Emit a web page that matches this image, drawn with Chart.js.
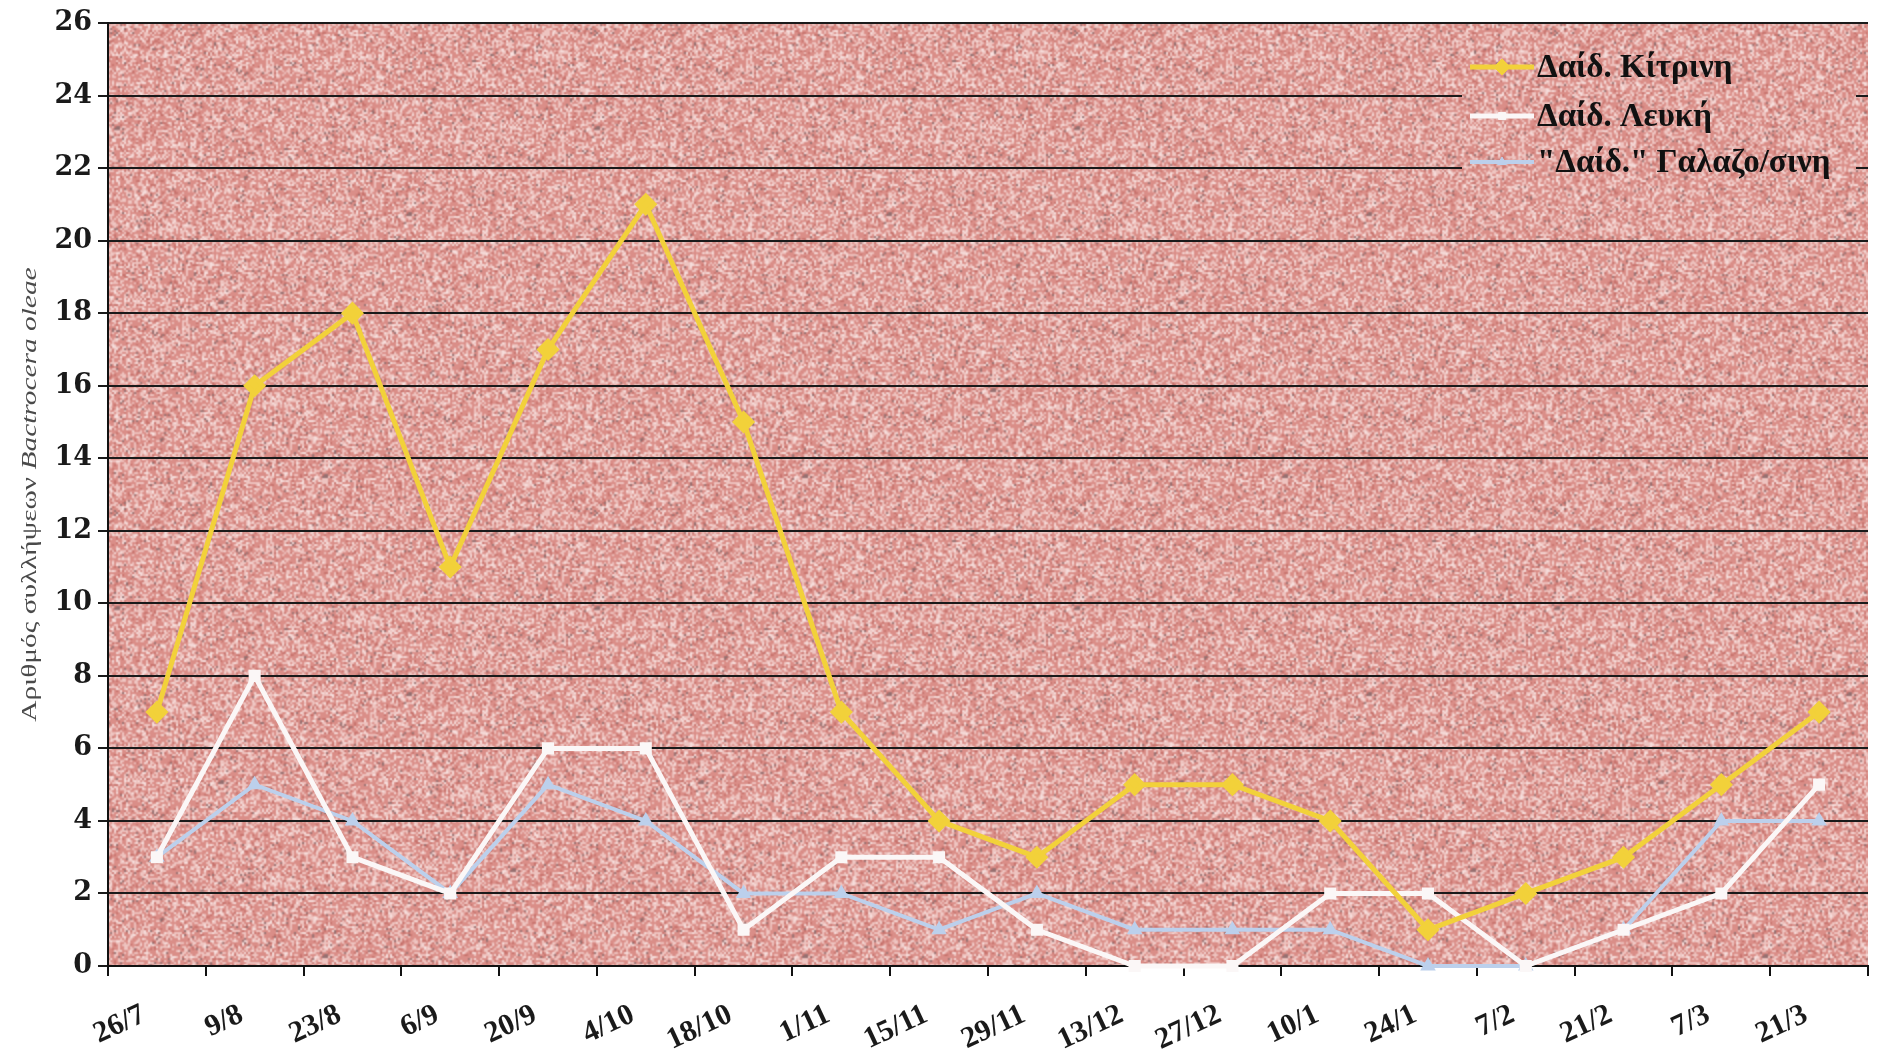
<!DOCTYPE html>
<html>
<head>
<meta charset="utf-8">
<script src="https://cdn.jsdelivr.net/npm/chart.js@4.4.1/dist/chart.umd.min.js"></script>
<style>
  html, body { margin: 0; padding: 0; background: #ffffff; }
  #wrap { width: 1881px; height: 1053px; position: relative; }
</style>
</head>
<body>
<div id="wrap"><canvas id="c" width="1881" height="1053"></canvas></div>
<script>
// ---- data ----
const dateLabels = ['26/7','9/8','23/8','6/9','20/9','4/10','18/10','1/11','15/11','29/11','13/12','27/12','10/1','24/1','7/2','21/2','7/3','21/3'];
const yellowTrap = [7, 16, 18, 11, 17, 21, 15, 7, 4, 3, 5, 5, 4, 1, 2, 3, 5, 7];
const whiteTrap  = [3, 8, 3, 2, 6, 6, 1, 3, 3, 1, 0, 0, 2, 2, 0, 1, 2, 5];
const blueTrap   = [3, 5, 4, 2, 5, 4, 2, 2, 1, 2, 1, 1, 1, 0, 0, 1, 4, 4];
const seriesNames = ['Δαίδ. Κίτρινη', 'Δαίδ. Λευκή', '"Δαίδ." Γαλαζο/σινη'];
const yTitleMain = 'Αριθμός συλλήψεων ';
const yTitleItalic = 'Bactrocera oleae';

const PLOT_BG = '#d8938e';
const SERIF = '"Liberation Serif", "DejaVu Serif", serif';
const WIDE_SERIF = '"DejaVu Serif", "Liberation Serif", serif';

// speckled paper-like texture for the plot background (decorative only)
function makeTexture() {
  const c = document.createElement('canvas');
  c.width = 240; c.height = 240;
  const g = c.getContext('2d');
  const img = g.createImageData(240, 240);
  let s = 12345;
  function rnd() { s = (s * 1103515245 + 12345) & 0x7fffffff; return s / 0x7fffffff; }
  for (let i = 0; i < 240 * 240; i++) {
    const r = rnd();
    let col;
    if (r < 0.30) col = [238, 196, 192];
    else if (r < 0.40) col = [246, 222, 220];
    else if (r < 0.88) col = [218, 142, 136];
    else if (r < 0.97) col = [200, 116, 110];
    else col = [150, 112, 112];
    img.data[i * 4] = col[0]; img.data[i * 4 + 1] = col[1]; img.data[i * 4 + 2] = col[2]; img.data[i * 4 + 3] = 255;
  }
  g.putImageData(img, 0, 0);
  return c;
}
const textureCanvas = makeTexture();
let texturePattern = null;

const bgPlugin = {
  id: 'bg',
  beforeDraw(chart) {
    const {ctx, chartArea: a} = chart;
    if (!texturePattern) {
      texturePattern = ctx.createPattern(textureCanvas, 'repeat');
      if (texturePattern.setTransform) texturePattern.setTransform(new DOMMatrix().scale(2, 2));
    }
    ctx.save();
    ctx.fillStyle = '#ffffff';
    ctx.fillRect(0, 0, chart.width, chart.height);
    ctx.fillStyle = texturePattern;
    ctx.fillRect(a.left, a.top, a.right - a.left, a.bottom - a.top);
    ctx.restore();
  }
};

const yTitlePlugin = {
  id: 'ytitle',
  afterDraw(chart) {
    const {ctx, chartArea: a} = chart;
    ctx.save();
    const f1 = '21px ' + SERIF;
    const f2 = 'italic 21px ' + SERIF;
    ctx.font = f1; const w1 = ctx.measureText(yTitleMain).width;
    ctx.font = f2; const w2 = ctx.measureText(yTitleItalic).width;
    const sx = 1.4;
    const total = (w1 + w2) * sx;
    const cy = (a.top + a.bottom) / 2;
    ctx.translate(30, cy + total / 2);
    ctx.rotate(-Math.PI / 2);
    ctx.scale(sx, 1);
    ctx.fillStyle = '#4a4a4a';
    ctx.textBaseline = 'middle';
    ctx.textAlign = 'left';
    ctx.font = f1; ctx.fillText(yTitleMain, 0, 0);
    ctx.font = f2; ctx.fillText(yTitleItalic, w1, 0);
    ctx.restore();
  }
};

const legendPlugin = {
  id: 'innerLegend',
  afterDatasetsDraw(chart) {
    const {ctx} = chart;
    const x0 = 1462, y0 = 40, w = 394, h = 152;
    ctx.save();
    ctx.fillStyle = texturePattern || PLOT_BG;
    ctx.fillRect(x0, y0, w, h);
    const rowY = [67, 116, 162];
    chart.data.datasets.forEach((ds, i) => {
      const y = rowY[i];
      ctx.strokeStyle = ds.borderColor;
      ctx.lineWidth = ds.borderWidth;
      ctx.beginPath();
      ctx.moveTo(1470, y); ctx.lineTo(1534, y);
      ctx.stroke();
      ctx.fillStyle = ds.pointBackgroundColor;
      ctx.strokeStyle = ds.pointBorderColor;
      ctx.lineWidth = 1;
      Chart.helpers.drawPoint(ctx, {
        pointStyle: ds.pointStyle, radius: ds.pointRadius, rotation: 0, borderWidth: 1
      }, 1502, y);
      ctx.fillStyle = '#111111';
      ctx.font = 'bold 33px ' + SERIF;
      ctx.textBaseline = 'middle';
      ctx.textAlign = 'left';
      ctx.fillText(ds.label, 1537, y + 1);
    });
    ctx.restore();
  }
};

function mkDataset(label, data, color, style, radius, width) {
  return {
    label, data,
    borderColor: color, backgroundColor: color,
    pointBackgroundColor: color, pointBorderColor: color,
    borderWidth: width, pointStyle: style, pointRadius: radius,
    pointHoverRadius: radius, tension: 0, clip: 6
  };
}

new Chart(document.getElementById('c'), {
  type: 'line',
  data: {
    labels: dateLabels,
    datasets: [
      mkDataset(seriesNames[0], yellowTrap, '#f2d13a', 'rectRot', 8, 5),
      mkDataset(seriesNames[1], whiteTrap, '#fbf7f7', 'rect', 5, 5),
      mkDataset(seriesNames[2], blueTrap, '#bcd0ec', 'triangle', 5, 4)
    ]
  },
  options: {
    responsive: false,
    animation: false,
    devicePixelRatio: 1,
    layout: { padding: { top: 23, right: 0, left: 0, bottom: 0 } },
    plugins: { legend: { display: false }, tooltip: { enabled: false } },
    scales: {
      x: {
        offset: true,
        grid: { offset: true, drawOnChartArea: false, drawTicks: true, tickLength: 10, color: '#111', lineWidth: 2 },
        border: { display: true, color: '#111', width: 2 },
        ticks: {
          autoSkip: false, minRotation: 25, maxRotation: 25, padding: 21,
          labelOffset: -13,
          color: '#1a1a1a',
          font: { family: SERIF, size: 30, weight: 'bold' }
        },
        afterFit(scale) { scale.height = 87; }
      },
      y: {
        min: 0, max: 26,
        ticks: { stepSize: 2, color: '#1a1a1a', padding: 6, font: { family: WIDE_SERIF, size: 27, weight: 'bold' } },
        grid: { color: '#1a1a1a', lineWidth: 2, drawTicks: true, tickLength: 10 },
        border: { display: true, color: '#111', width: 2 },
        afterFit(scale) { scale.width = 108; }
      }
    }
  },
  plugins: [bgPlugin, legendPlugin, yTitlePlugin]
});
</script>
</body>
</html>
